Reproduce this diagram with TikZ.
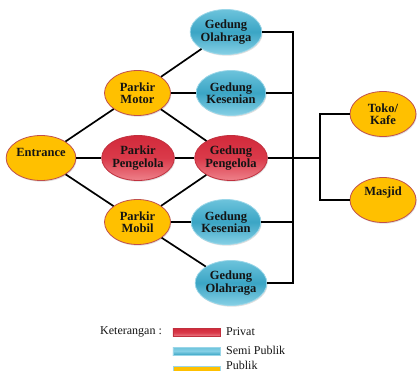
\documentclass[tikz,border=0pt]{standalone}
\usepackage{fontspec}
\setmainfont{Liberation Serif}
\usetikzlibrary{shapes.geometric,shadows}
\definecolor{yel}{HTML}{FFC000}
\definecolor{yelborder}{HTML}{C0504D}
\definecolor{bluetop}{HTML}{6CC3DC}
\definecolor{bluemid}{HTML}{3BA5C5}
\definecolor{bluebot}{HTML}{86D0E5}
\definecolor{blueborder}{HTML}{9AD6E8}
\definecolor{redtop}{HTML}{D22A3B}
\definecolor{redmid}{HTML}{DA3A4A}
\definecolor{redbot}{HTML}{EE818A}
\definecolor{redborder}{HTML}{C0303E}
\definecolor{txt}{HTML}{141414}
\tikzset{
  bub/.style={ellipse, minimum width=66pt, minimum height=45pt, inner sep=0pt,
    align=center, font=\fontsize{12.5}{12.5}\selectfont\bfseries, text=txt,
    line width=0.8pt, drop shadow={opacity=0.25, shadow xshift=0.8pt, shadow yshift=-1.2pt}},
  pub/.style={bub, fill=yel, draw=yelborder},
  semi/.style={bub, draw=blueborder, top color=bluetop, bottom color=bluebot, middle color=bluemid},
  priv/.style={bub, draw=redborder, top color=redtop, bottom color=redbot, middle color=redmid},
  link/.style={line width=1.7pt, black},
  legtxt/.style={font=\fontsize{12}{12}\selectfont, text=txt, inner sep=0pt},
  legbox/.style={minimum width=47pt, minimum height=8pt, inner sep=0pt, anchor=west, line width=0.6pt},
}
\begin{document}
\begin{tikzpicture}[x=1pt,y=-1pt]
\useasboundingbox (0,0) rectangle (417,371);
% nodes
\node[pub]  (ent) at (41,158) {\raisebox{6pt}[\height][\depth]{Entrance}};
\node[pub]  (pm)  at (137.5,93) {Parkir\\Motor};
\node[priv] (pp)  at (138,158) {Parkir\\Pengelola};
\node[pub]  (pmb) at (137.5,222) {Parkir\\Mobil};
\node[semi] (olt) at (226,32) {Gedung\\Olahraga};
\node[semi] (kst) at (231,93) {Gedung\\Kesenian};
\node[priv] (gp)  at (231,158) {Gedung\\Pengelola};
\node[semi] (ksb) at (226,222) {Gedung\\Kesenian};
\node[semi] (olb) at (231,283) {Gedung\\Olahraga};
\node[pub]  (toko) at (383,114) {Toko/\\Kafe};
\node[pub]  (msj) at (383,200) {\raisebox{8pt}[\height][\depth]{Masjid}};
% bus coordinates
\coordinate (bt) at (293,32);
\coordinate (bb) at (293,283);
\coordinate (j) at (320,158);
% connectors
\draw[link] (ent) -- (pm);
\draw[link] (ent) -- (pp);
\draw[link] (ent) -- (pmb);
\draw[link] (pm) -- (olt);
\draw[link] (pm) -- (kst);
\draw[link] (pm) -- (gp);
\draw[link] (pp) -- (gp);
\draw[link] (pmb) -- (gp);
\draw[link] (pmb) -- (ksb);
\draw[link] (pmb) -- (olb);
\draw[link] (olt.east) -- (bt) -- (bb) -- (olb.east);
\draw[link] (kst.east) -- (kst.east -| bt);
\draw[link] (ksb.east) -- (ksb.east -| bt);
\draw[link] (gp.east) -- (j);
\draw[link] (toko.west) -| (j) |- (msj.west);
% legend
\node[legtxt, anchor=west] (ket) at (100,332) {Keterangan :};
\node[legbox, draw=redborder, top color=redtop, bottom color=redbot, middle color=redmid] (lp) at (172.5,332.5) {};
\node[legbox, draw=blueborder, top color=bluetop, bottom color=bluemid, middle color=bluebot] (ls) at (172.5,351) {};
\node[legbox, draw=blueborder, fill=yel] (lu) at (172.5,370) {};
\node[legtxt, anchor=west] (tp) at (226,332) {Privat};
\node[legtxt, anchor=west] (ts) at (226,350) {Semi Publik};
\node[legtxt, anchor=base west] (tu) at (226,369.5) {Publik};
\end{tikzpicture}
\end{document}
